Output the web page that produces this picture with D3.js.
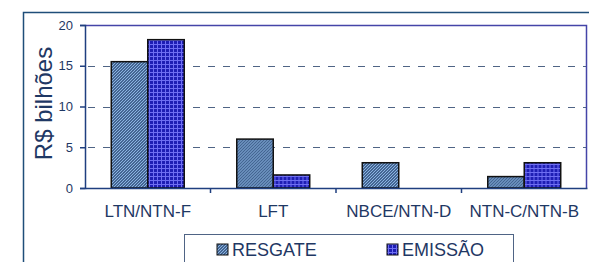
<!DOCTYPE html>
<html>
<head>
<meta charset="utf-8">
<script src="https://cdn.jsdelivr.net/npm/d3@7"></script>
<style>
  html, body { margin: 0; padding: 0; background: #fff; }
  svg { display: block; }
  text { font-family: "Liberation Sans", Arial, sans-serif; fill: #1f3864; }
</style>
</head>
<body>
<div id="chart"></div>
<script>
const categories = ["LTN/NTN-F", "LFT", "NBCE/NTN-D", "NTN-C/NTN-B"];
const seriesNames = ["RESGATE", "EMISSÃO"];
const resgate = [15.5, 6.0, 3.1, 1.4];
const emissao = [18.2, 1.6, 0, 3.1];
const yTicks = [0, 5, 10, 15, 20];

const svgWidth = 589;
const svgHeight = 262;

const plot = { left: 85, right: 587, top: 25, bottom: 188 };

const svg = d3.select("#chart")
  .append("svg")
  .attr("width", svgWidth)
  .attr("height", svgHeight);

// fill patterns
const defs = svg.append("defs");

const pRes = defs.append("pattern")
  .attr("id", "pRes")
  .attr("patternUnits", "userSpaceOnUse")
  .attr("width", 3)
  .attr("height", 3);
pRes.append("rect").attr("width", 3).attr("height", 3).attr("fill", "#22406c");
pRes.append("path")
  .attr("d", "M-1,1 L1,-1 M0,3 L3,0 M2,4 L4,2")
  .attr("stroke", "#8fb8e6")
  .attr("stroke-width", 1.2);

const pEmi = defs.append("pattern")
  .attr("id", "pEmi")
  .attr("patternUnits", "userSpaceOnUse")
  .attr("width", 4)
  .attr("height", 4);
pEmi.append("rect").attr("width", 4).attr("height", 4).attr("fill", "#1e1eb4");
pEmi.append("path")
  .attr("d", "M0,0.5 H4 M0.5,0 V4")
  .attr("stroke", "#6e6ef2")
  .attr("stroke-width", 1);

const fills = ["url(#pRes)", "url(#pEmi)"];

// outer frame (clipped by the picture on right and bottom)
svg.append("path")
  .attr("d", `M23.5,${svgHeight} V12.5 H${svgWidth}`)
  .attr("fill", "none")
  .attr("stroke", "#1f4e79")
  .attr("stroke-width", 1.5);

const x0 = d3.scaleBand()
  .domain(categories)
  .range([plot.left, plot.right]);

const x1 = d3.scaleBand()
  .domain(seriesNames)
  .range([0, x0.bandwidth()])
  .paddingOuter(0.72);

const y = d3.scaleLinear()
  .domain([0, 20])
  .range([plot.bottom, plot.top]);

// dashed gridlines
svg.append("g")
  .selectAll("line")
  .data(yTicks.filter(d => d > 0 && d < 20))
  .enter()
  .append("line")
  .attr("x1", plot.left)
  .attr("x2", plot.right)
  .attr("y1", d => Math.round(y(d)) + 0.5)
  .attr("y2", d => Math.round(y(d)) + 0.5)
  .attr("stroke", "#4f6485")
  .attr("stroke-width", 1)
  .attr("stroke-dasharray", "7,8")
  .attr("stroke-dashoffset", -3);

// plot area border top/right
svg.append("path")
  .attr("d", `M${plot.left},${plot.top + 0.5} H${plot.right - 0.5} V${plot.bottom}`)
  .attr("fill", "none")
  .attr("stroke", "#4444a8")
  .attr("stroke-width", 1.5);

// bars
const data = categories.map((c, i) => ({ cat: c, values: [resgate[i], emissao[i]] }));

const groups = svg.append("g")
  .selectAll("g")
  .data(data)
  .enter()
  .append("g")
  .attr("transform", d => `translate(${x0(d.cat)},0)`);

groups.selectAll("rect")
  .data(d => d.values.map((v, k) => ({ key: seriesNames[k], v: v, k: k })).filter(e => e.v > 0))
  .enter()
  .append("rect")
  .attr("x", d => x1(d.key))
  .attr("width", x1.bandwidth())
  .attr("y", d => y(d.v))
  .attr("height", d => y(0) - y(d.v))
  .attr("fill", d => fills[d.k])
  .attr("stroke", "#111")
  .attr("stroke-width", 1.5);

// axes
const leftAxis = d3.axisLeft(y)
  .tickValues(yTicks)
  .tickSize(5)
  .tickPadding(7);

const gy = svg.append("g")
  .attr("transform", `translate(${plot.left},0)`)
  .call(leftAxis);
gy.select(".domain").attr("stroke", "#1f3f7f").attr("stroke-width", 1.5);
gy.selectAll(".tick line").attr("stroke", "#1f3f7f").attr("stroke-width", 1.5);
gy.selectAll(".tick text")
  .attr("font-size", 13)
  .attr("font-family", "Liberation Sans, Arial, sans-serif")
  .attr("fill", "#1f3864");

const bottomAxis = d3.axisBottom(x0)
  .tickSize(0)
  .tickPadding(17);

const gx = svg.append("g")
  .attr("transform", `translate(0,${plot.bottom})`)
  .call(bottomAxis);
gx.select(".domain").attr("stroke", "#1f3f7f").attr("stroke-width", 1.5);
gx.selectAll(".tick text")
  .attr("font-size", 17)
  .attr("font-family", "Liberation Sans, Arial, sans-serif")
  .attr("fill", "#1f3864");

// category separator ticks
gx.selectAll(".sep")
  .data(categories.slice(1))
  .enter()
  .append("line")
  .attr("class", "sep")
  .attr("x1", d => x0(d))
  .attr("x2", d => x0(d))
  .attr("y1", 0)
  .attr("y2", 5)
  .attr("stroke", "#1f3f7f")
  .attr("stroke-width", 1.5);

// y title
svg.append("text")
  .attr("transform", `translate(52,${(plot.top + plot.bottom) / 2 - 3}) rotate(-90)`)
  .attr("text-anchor", "middle")
  .attr("font-size", 24)
  .text("R$ bilhões");

// legend
const legend = svg.append("g");
legend.append("rect")
  .attr("x", 184.5)
  .attr("y", 234.5)
  .attr("width", 329)
  .attr("height", 40)
  .attr("fill", "#fff")
  .attr("stroke", "#4f6485")
  .attr("stroke-width", 1);

const legendX = [217, 387];
seriesNames.forEach((name, k) => {
  legend.append("rect")
    .attr("x", legendX[k])
    .attr("y", 244)
    .attr("width", 11)
    .attr("height", 11)
    .attr("fill", fills[k])
    .attr("stroke", "#111")
    .attr("stroke-width", 1);
  legend.append("text")
    .attr("x", legendX[k] + 15)
    .attr("y", 256)
    .attr("font-size", 18)
    .text(name);
});
</script>
</body>
</html>
